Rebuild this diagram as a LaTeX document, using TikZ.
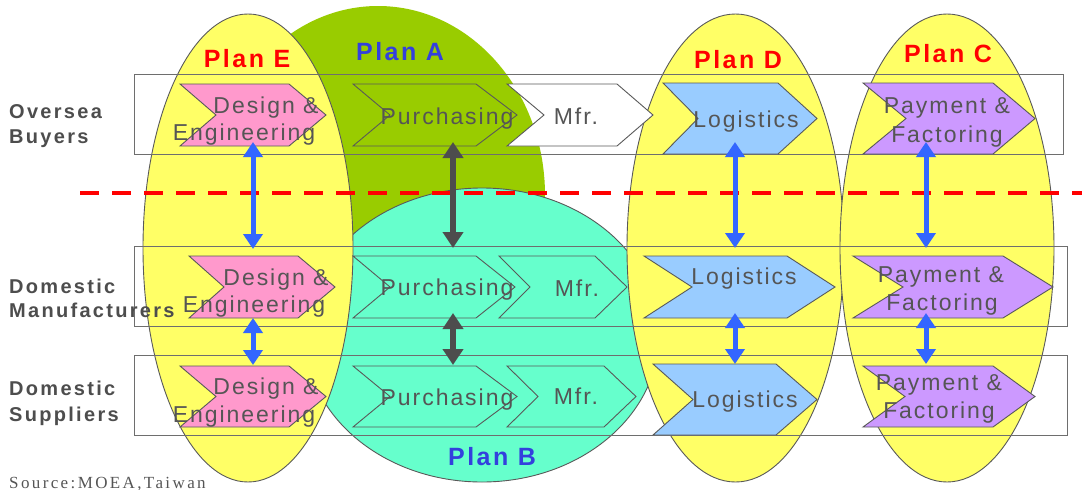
\documentclass[tikz,border=0pt]{standalone}
\usepackage{fontspec}
\setmainfont{Liberation Sans}
\newfontfamily\chevfont[LetterSpace=8.5]{Liberation Sans}
\newfontfamily\planfont[LetterSpace=10]{Liberation Sans}
\newfontfamily\rowfont[LetterSpace=11.5]{Liberation Sans}
\newfontfamily\srcfont[LetterSpace=14]{Liberation Serif}
\usetikzlibrary{arrows.meta}
\definecolor{yellowE}{HTML}{FFFF66}
\definecolor{greenA}{HTML}{99CC00}
\definecolor{cyanB}{HTML}{66FFCC}
\definecolor{pinkC}{HTML}{FF99CC}
\definecolor{lblue}{HTML}{99CCFF}
\definecolor{purp}{HTML}{CC99FF}
\definecolor{arrBlue}{HTML}{3366FF}
\definecolor{arrDark}{HTML}{4D4D4D}
\definecolor{lineGray}{HTML}{595959}
\definecolor{bandGray}{HTML}{6E6E6E}
\definecolor{textGray}{HTML}{555555}
\definecolor{rowGray}{HTML}{4D4D4D}
\definecolor{planBlue}{HTML}{3340DD}
\definecolor{planRed}{HTML}{FF0000}
\newcommand{\chevshape}[8]{%
  \node[anchor=north west, inner sep=0pt, outer sep=0pt,
        minimum width={#5pt-#3pt}, minimum height={#8pt-#7pt}] (#1) at (#3,#7) {};
  \draw[chevline,#2] (#3,#7) -- (#4,#7) -- (#5,{(#7+#8)/2}) -- (#4,#8) -- (#3,#8)
        -- (#6,{(#7+#8)/2}) -- cycle;
}
\tikzset{
  chevline/.style={draw=lineGray, line width=0.9pt, line join=miter},
  chevtext/.style={font=\chevfont\fontsize{23}{23}\selectfont, text=textGray, inner sep=0pt, anchor=base},
  plantext/.style={font=\planfont\bfseries\fontsize{25}{25}\selectfont, inner sep=0pt, anchor=base},
  rowtext/.style={font=\rowfont\bfseries\fontsize{20}{20}\selectfont, text=rowGray, inner sep=0pt, anchor=base west},
  srctext/.style={font=\srcfont\fontsize{17}{17}\selectfont, text=textGray, inner sep=0pt, anchor=base west},
  planoutline/.style={draw=lineGray, line width=0.9pt},
  band/.style={draw=bandGray, line width=0.9pt},
  barr/.style={draw=arrBlue, line width=5pt,
    {Triangle[width=19pt,length=15pt]}-{Triangle[width=19pt,length=15pt]}},
  darr/.style={draw=arrDark, line width=6pt,
    {Triangle[width=20pt,length=16pt]}-{Triangle[width=20pt,length=16pt]}},
  divider/.style={draw=planRed, line width=4pt, dash pattern=on 19pt off 13pt},
}
\begin{document}
\begin{tikzpicture}[x=1pt,y=-1pt]
\useasboundingbox (0,0) rectangle (1082,490);
% plan regions
\fill[greenA] (378,195) ellipse [x radius=167pt, y radius=189pt];
\filldraw[fill=cyanB, planoutline] (482,335) ellipse [x radius=177pt, y radius=147pt];
\filldraw[fill=yellowE, planoutline] (248,248) ellipse [x radius=105pt, y radius=234pt];
\filldraw[fill=yellowE, planoutline] (735.5,248) ellipse [x radius=108.5pt, y radius=234pt];
\filldraw[fill=yellowE, planoutline] (947,248) ellipse [x radius=107pt, y radius=234pt];
% row bands
\draw[band] (134,74) rectangle (1063,154);
\draw[band] (134,246) rectangle (1067,326);
\draw[band] (134,355) rectangle (1067,435);
% chevrons
\chevshape{d1}{fill=pinkC}{180}{289}{326}{216}{84}{146}
\chevshape{p1}{}{353}{476}{517}{390}{84}{146}
\chevshape{m1}{fill=white}{507}{617}{653}{544}{84}{146}
\chevshape{l1}{fill=lblue}{663}{778}{817}{698}{83}{154}
\chevshape{y1}{fill=purp}{863}{993}{1035}{906}{83}{154}
\chevshape{d2}{fill=pinkC}{189}{298}{335}{224}{256}{318}
\chevshape{p2}{}{353}{476}{515}{390}{256}{318}
\chevshape{m2}{}{499}{595}{627}{530}{256}{318}
\chevshape{l2}{fill=lblue}{644}{787}{835}{692}{256}{318}
\chevshape{y2}{fill=purp}{853}{1003}{1053}{903}{256}{318}
\chevshape{d3}{fill=pinkC}{180}{289}{326}{216}{366}{427}
\chevshape{p3}{}{353}{476}{517}{390}{366}{427}
\chevshape{m3}{}{507}{604}{636}{538}{366}{427}
\chevshape{l3}{fill=lblue}{653}{776}{817}{693}{364}{435}
\chevshape{y3}{fill=purp}{863}{993}{1035}{905}{366}{427}
% chevron texts
\node[chevtext] (td1a) at (266,113) {Design \&};
\node[chevtext] (td1b) at (244,140) {Engineering};
\node[chevtext] (tp1) at (447,124) {Purchasing};
\node[chevtext] (tm1) at (576,124) {Mfr.};
\node[chevtext] (tl1) at (746,127) {Logistics};
\node[chevtext] (ty1a) at (947,113) {Payment \&};
\node[chevtext] (ty1b) at (947,142) {Factoring};
\node[chevtext] (td2a) at (276,285) {Design \&};
\node[chevtext] (td2b) at (254,312) {Engineering};
\node[chevtext] (tp2) at (447,295) {Purchasing};
\node[chevtext] (tm2) at (577,296) {Mfr.};
\node[chevtext] (tl2) at (744,284) {Logistics};
\node[chevtext] (ty2a) at (941,282) {Payment \&};
\node[chevtext] (ty2b) at (942,310) {Factoring};
\node[chevtext] (td3a) at (266,394) {Design \&};
\node[chevtext] (td3b) at (244,422) {Engineering};
\node[chevtext] (tp3) at (447,405) {Purchasing};
\node[chevtext] (tm3) at (576,404) {Mfr.};
\node[chevtext] (tl3) at (745,407) {Logistics};
\node[chevtext] (ty3a) at (939,390) {Payment \&};
\node[chevtext] (ty3b) at (939,418) {Factoring};
% plan labels
\node[plantext, text=planRed] (planE) at (247,67) {Plan E};
\node[plantext, text=planBlue] (planA) at (400,60) {Plan A};
\node[plantext, text=planRed] (planD) at (738,68) {Plan D};
\node[plantext, text=planRed] (planC) at (948,62) {Plan C};
\node[plantext, text=planBlue] (planB) at (492,465) {Plan B};
% row labels
\node[rowtext] (r1a) at (9,118) {Oversea};
\node[rowtext] (r1b) at (9,143) {Buyers};
\node[rowtext] (r2a) at (9,293) {Domestic};
\node[rowtext] (r2b) at (9,317) {Manufacturers};
\node[rowtext] (r3a) at (9,395) {Domestic};
\node[rowtext] (r3b) at (9,421) {Suppliers};
\node[srctext] (src) at (9,488) {Source:MOEA,Taiwan};
% divider
\draw[divider] (80,193) -- (1082,193);
% arrows
\draw[barr] ([yshift=4pt]d1.south) -- ([yshift=7pt]d1.south |- d2.north);
\draw[barr] (d3.north |- d2.south) -- ([yshift=1pt]d3.north);
\draw[darr] ([shift={(18pt,4pt)}]p1.south) -- ([shift={(18pt,8pt)}]p1.south |- p2.north);
\draw[darr] ([shift={(18pt,5pt)}]p1.south |- p2.south) -- ([shift={(18pt,1pt)}]p3.north);
\draw[barr] ([yshift=12pt]l3.north |- l1.south) -- ([yshift=8pt]l3.north |- l2.north);
\draw[barr] ([yshift=5pt]l3.north |- l2.south) -- (l3.north);
\draw[barr] ([shift={(-23pt,12pt)}]y1.south) -- ([shift={(-23pt,8pt)}]y1.south |- y2.north);
\draw[barr] ([shift={(-23pt,5pt)}]y1.south |- y2.south) -- ([shift={(-23pt,2pt)}]y3.north);
\end{tikzpicture}
\end{document}
